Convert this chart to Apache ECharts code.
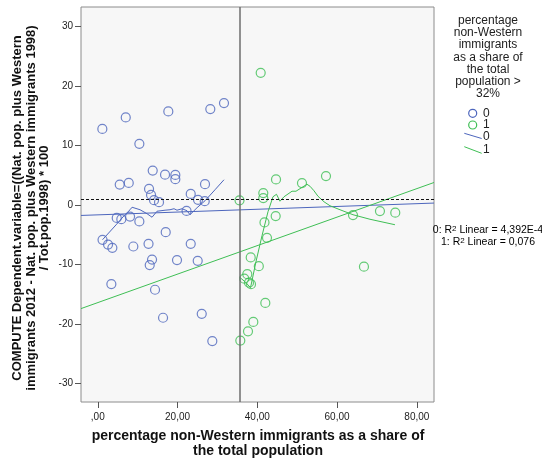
<!DOCTYPE html>
<html>
<head>
<meta charset="utf-8">
<script src="https://cdn.jsdelivr.net/npm/echarts@6/dist/echarts.min.js"></script>
<style>
  html, body { margin: 0; padding: 0; background: #fff; }
  #chart { width: 542px; height: 459px; }
</style>
</head>
<body>
<div id="chart"></div>
<script>
// Municipalities with a non-Western share <= 32% (group 0): [share %, change]
const points0 = [
  [1.15, 12.80], [7.02, 14.74], [10.43, 10.30], [17.69, 15.74], [28.22, 16.14], [31.65, 17.15],
  [13.78, 5.80], [5.51, 3.45], [7.77, 3.73], [16.87, 5.12], [19.45, 5.07], [19.45, 4.35],
  [26.89, 3.51], [12.86, 2.72], [13.36, 1.71], [14.11, 0.82], [15.36, 0.49], [23.31, 1.88],
  [25.14, 0.88], [26.82, 0.66], [4.76, -2.15], [5.91, -2.37], [8.10, -1.93], [10.43, -2.74],
  [22.26, -0.98], [17.04, -4.55], [1.20, -5.84], [2.58, -6.63], [3.66, -7.18], [8.92, -6.96],
  [12.73, -6.51], [23.31, -6.51], [13.61, -9.15], [13.03, -10.09], [19.87, -9.25], [25.06, -9.37],
  [3.41, -13.28], [14.36, -14.23], [16.37, -18.94], [26.07, -18.27], [28.72, -22.86]
];

// Municipalities with a non-Western share > 32% (group 1)
const points1 = [
  [35.54, 0.81], [40.85, 22.23], [44.69, 4.31], [51.20, 3.70], [57.22, 4.87], [41.50, 2.02],
  [41.50, 1.18], [44.61, -1.84], [41.80, -2.91], [42.43, -5.51], [38.35, -8.79], [40.38, -10.26],
  [37.49, -11.61], [36.74, -12.37], [37.92, -13.04], [38.42, -13.29], [42.01, -16.45], [39.00, -19.64],
  [37.67, -21.22], [35.74, -22.78], [63.99, -1.67], [70.75, -1.00], [74.59, -1.28], [66.74, -10.35]
];

// Linear fit lines, end points at the axis limits
const fit0 = [[-4.2, -1.74], [84.3, 0.34]];
const fit1 = [[-4.2, -17.4], [84.3, 3.80]];

// Loess smoothers
const loess0 = [
  [1.20, -5.82], [4.59, -3.32], [6.59, -1.79], [8.10, -0.78], [8.60, -0.36], [10.60, -0.78],
  [12.36, -1.45], [13.61, -2.04], [14.86, -1.03], [16.87, -0.86], [18.12, -0.78], [19.12, -0.61],
  [19.87, -0.86], [21.13, -0.61], [22.38, -0.95], [23.13, -1.62], [24.89, -0.44], [26.89, 0.73],
  [29.40, 2.58], [31.65, 4.26]
];
const loess1 = [
  [35.54, -12.12], [36.92, -12.87], [38.30, -13.88], [39.67, -9.51], [41.18, -5.15], [42.68, -1.12],
  [43.93, 1.40], [44.81, 1.82], [45.69, 0.65], [46.69, 1.40], [48.70, 2.33], [49.70, 2.33],
  [51.45, 3.08], [52.46, 3.50], [53.21, 3.17], [54.21, 2.41], [55.21, 1.49], [56.72, 0.56],
  [58.22, -0.11], [60.73, -0.78], [63.99, -1.62], [68.25, -2.38], [74.51, -3.30]
];

// Reference lines
const refShare = 35.5;
const refChange = 1.0;

// Axis ticks and their labels
const xTicks = [0, 20, 40, 60, 80];
const xTickLabels = [',00', '20,00', '40,00', '60,00', '80,00'];
const yTicks = [-30, -20, -10, 0, 10, 20, 30];
const yTickLabels = ['-30', '-20', '-10', '0', '10', '20', '30'];

const groupNames = ['0', '1'];
const r2Labels = ['4,392E-4', '0,076'];

const BLUE = '#4d66bd';
const GREEN = '#3fbf55';
const FONT = '"Liberation Sans", Arial, sans-serif';

const chart = echarts.init(document.getElementById('chart'), null, { renderer: 'canvas' });

function scatterSeries(data, color) {
  return {
    type: 'scatter',
    data: data,
    symbol: 'circle',
    symbolSize: 9,
    itemStyle: { color: 'rgba(0,0,0,0)', borderColor: color, borderWidth: 1.2 },
    silent: true,
    z: 4
  };
}
function lineSeries(data, color) {
  return {
    type: 'line',
    data: data,
    showSymbol: false,
    symbol: 'none',
    lineStyle: { color: color, width: 1 },
    silent: true,
    z: 3
  };
}

const option = {
  animation: false,
  backgroundColor: '#ffffff',
  grid: {
    left: 81, right: 108, top: 7, bottom: 57,
    show: true, backgroundColor: '#f7f7f7', borderColor: '#8c8c8c', borderWidth: 1
  },
  xAxis: {
    type: 'value', min: -4.2, max: 84.3,
    axisLine: { show: false, onZero: false },
    axisTick: { show: true, length: 6, customValues: xTicks, lineStyle: { color: '#555' } },
    axisLabel: {
      customValues: xTicks, margin: 10, fontSize: 10, color: '#222', fontFamily: FONT,
      formatter: v => xTickLabels[xTicks.indexOf(v)]
    },
    splitLine: { show: false }
  },
  yAxis: {
    type: 'value', min: -33.1, max: 33.3,
    axisLine: { show: false, onZero: false },
    axisTick: { show: true, length: 6, customValues: yTicks, lineStyle: { color: '#555' } },
    axisLabel: {
      customValues: yTicks, margin: 8, fontSize: 10, color: '#222', fontFamily: FONT,
      formatter: v => yTickLabels[yTicks.indexOf(v)]
    },
    splitLine: { show: false }
  },
  series: [
    {
      type: 'line', data: [], silent: true,
      markLine: {
        silent: true, symbol: 'none', animation: false,
        label: { show: false },
        data: [
          { xAxis: refShare, lineStyle: { color: '#6e6e6e', width: 1.5, type: 'solid' } },
          { yAxis: refChange, lineStyle: { color: '#111', width: 1, type: [3, 2] } }
        ]
      },
      z: 2
    },
    lineSeries(fit0, BLUE),
    lineSeries(fit1, GREEN),
    lineSeries(loess0, BLUE),
    lineSeries(loess1, GREEN),
    scatterSeries(points0, BLUE),
    scatterSeries(points1, GREEN)
  ],
  graphic: [
    {
      type: 'text', x: 31, y: 208, rotation: Math.PI / 2, silent: true,
      style: {
        text: 'COMPUTE Dependent.variable=((Nat. pop. plus Western\nimmigrants 2012 - Nat. pop. plus Western immigrants 1998)\n/ Tot.pop.1998) * 100',
        font: 'bold 13px ' + FONT, fill: '#111', lineHeight: 13.5,
        textAlign: 'center', textVerticalAlign: 'middle', align: 'center', verticalAlign: 'middle'
      }
    },
    {
      type: 'text', x: 258, y: 444, silent: true,
      style: {
        text: 'percentage non-Western immigrants as a share of\nthe total population',
        font: 'bold 14px ' + FONT, fill: '#111', lineHeight: 15,
        textAlign: 'center', textVerticalAlign: 'middle', align: 'center', verticalAlign: 'middle'
      }
    },
    {
      type: 'text', x: 488, y: 14.5, silent: true,
      style: {
        text: 'percentage\nnon-Western\nimmigrants\nas a share of\nthe total\npopulation >\n32%',
        font: '12px ' + FONT, fill: '#222', lineHeight: 12.2,
        textAlign: 'center', textVerticalAlign: 'top', align: 'center', verticalAlign: 'top'
      }
    },
    { type: 'circle', shape: { cx: 472.7, cy: 113.3, r: 4 }, style: { fill: 'none', stroke: BLUE, lineWidth: 1.2 }, silent: true },
    { type: 'circle', shape: { cx: 472.7, cy: 125, r: 4 }, style: { fill: 'none', stroke: GREEN, lineWidth: 1.2 }, silent: true },
    { type: 'line', shape: { x1: 464.3, y1: 133.3, x2: 481.7, y2: 138.5 }, style: { stroke: BLUE, lineWidth: 1 }, silent: true },
    { type: 'line', shape: { x1: 464.3, y1: 146.7, x2: 481.7, y2: 153.3 }, style: { stroke: GREEN, lineWidth: 1 }, silent: true },
    { type: 'text', x: 483, y: 113.3, silent: true, style: { text: groupNames[0], font: '12px ' + FONT, fill: '#222', textVerticalAlign: 'middle', verticalAlign: 'middle' } },
    { type: 'text', x: 483, y: 125, silent: true, style: { text: groupNames[1], font: '12px ' + FONT, fill: '#222', textVerticalAlign: 'middle', verticalAlign: 'middle' } },
    { type: 'text', x: 483, y: 137, silent: true, style: { text: groupNames[0], font: '12px ' + FONT, fill: '#222', textVerticalAlign: 'middle', verticalAlign: 'middle' } },
    { type: 'text', x: 483, y: 150, silent: true, style: { text: groupNames[1], font: '12px ' + FONT, fill: '#222', textVerticalAlign: 'middle', verticalAlign: 'middle' } },
    {
      type: 'text', x: 488, y: 230.5, silent: true,
      style: {
        text: '{a|' + groupNames[0] + ': R}{s|2}{a| Linear = ' + r2Labels[0] + '}',
        textAlign: 'center', textVerticalAlign: 'middle', align: 'center', verticalAlign: 'middle',
        rich: {
          a: { fontSize: 10.5, fontFamily: FONT, color: '#222', lineHeight: 12 },
          s: { fontSize: 8, fontFamily: FONT, color: '#222', verticalAlign: 'top', lineHeight: 9 }
        }
      }
    },
    {
      type: 'text', x: 488, y: 242.5, silent: true,
      style: {
        text: '{a|' + groupNames[1] + ': R}{s|2}{a| Linear = ' + r2Labels[1] + '}',
        textAlign: 'center', textVerticalAlign: 'middle', align: 'center', verticalAlign: 'middle',
        rich: {
          a: { fontSize: 10.5, fontFamily: FONT, color: '#222', lineHeight: 12 },
          s: { fontSize: 8, fontFamily: FONT, color: '#222', verticalAlign: 'top', lineHeight: 9 }
        }
      }
    }
  ]
};

chart.setOption(option);
</script>
</body>
</html>
